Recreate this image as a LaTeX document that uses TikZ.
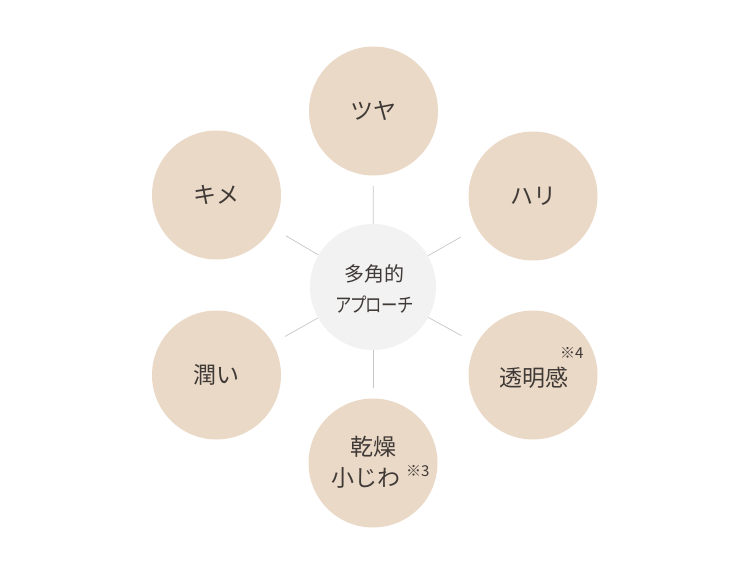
\documentclass[tikz,border=0pt]{standalone}
\usepackage{fontspec}
\usepackage{graphicx}
\newfontfamily\jp{Noto Sans CJK JP}
\newfontfamily\jpp[RawFeature=+palt]{Noto Sans CJK JP}
\usetikzlibrary{calc}
\definecolor{beige}{HTML}{EAD9C7}
\definecolor{hubgray}{HTML}{F2F2F2}
\definecolor{linegray}{HTML}{C6C6C6}
\definecolor{txt}{HTML}{403A37}
\tikzset{
  outer/.style={circle, fill=beige, minimum size=129pt, inner sep=0pt, text=txt, font=\jp\fontsize{23}{30}\selectfont, align=center},
  hub/.style={circle, fill=hubgray, minimum size=126pt, inner sep=0pt},
  hubtext/.style={text=txt, font=\jpp\fontsize{20}{20}\selectfont, inner sep=0pt},
  link/.style={draw=linegray, line width=0.7pt},
  note/.style={text=txt, font=\jp\fontsize{15}{15}\selectfont, inner sep=0pt},
  lbl/.style={text=txt, font=\jp\fontsize{23}{23}\selectfont, inner sep=0pt}
}
\begin{document}
\begin{tikzpicture}[x=1pt,y=-1pt]
\useasboundingbox (0,0) rectangle (756,570);
\node[hub] (c) at (373,287) {};
\node[hubtext] (c1) at (374,274) {多角的};
\node[hubtext] (c2) at (374.5,305) {\scalebox{0.82}[1]{アプローチ}};
\node[outer] (t) at (373.5,111) {ツヤ};
\node[outer] (ur) at (533,196) {ハリ};
\node[outer] (lr) at (533,375) {};
\node[outer] (b) at (373,463) {};
\node[outer] (ll) at (216.5,375) {潤い};
\node[outer] (ul) at (216.5,195) {キメ};
\node[lbl] (lrt) at (533.5,378) {透明感};
\node[note, anchor=west] (lrn) at (560,353) {※4};
\node[lbl] (bt1) at (373,447) {乾燥};
\node[lbl] (bt2) at (366,478) {小じわ};
\node[note, anchor=west] (bn) at (406,471) {※3};
\foreach \o in {t,ur,lr,b,ll,ul}{
  \draw[link] (c) -- ($(c)!101pt!(\o)$);
}
\end{tikzpicture}
\end{document}
